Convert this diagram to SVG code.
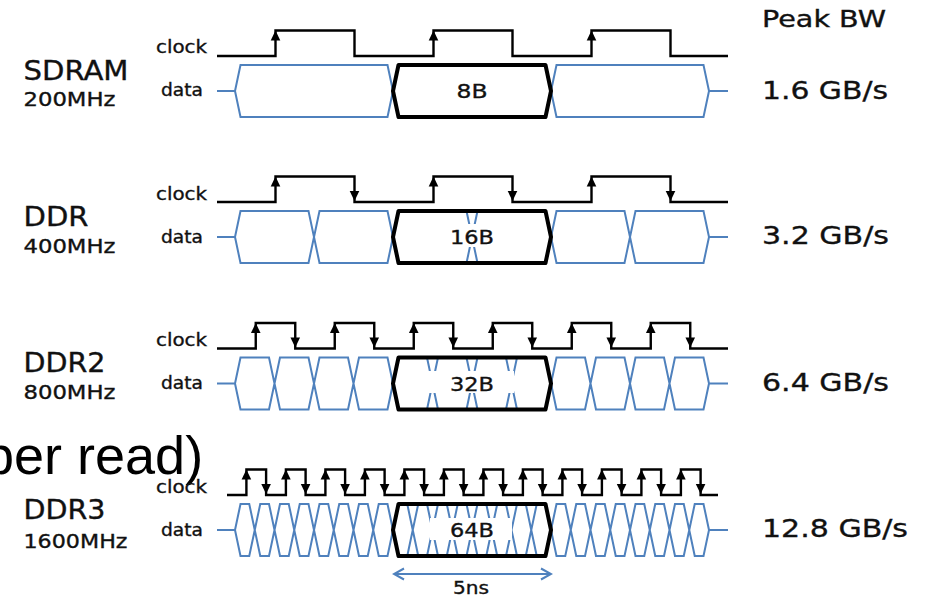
<svg xmlns="http://www.w3.org/2000/svg" xmlns:xlink="http://www.w3.org/1999/xlink" width="936" height="602" viewBox="0 0 936 602">
<style>
.t{font-family:"DejaVu Sans",Verdana,sans-serif;fill:#111;stroke:#111;stroke-width:0.35}
.big{font-size:26px}
.mhz{font-size:19px}
.lab{font-size:18px}
.bw{font-size:25px}
.box{font-size:20px;text-anchor:middle}
.clk{fill:none;stroke:#000;stroke-width:2.4}
.dat{fill:none;stroke:#4f81bd;stroke-width:2;stroke-linejoin:miter}
.bold{fill:none;stroke:#000;stroke-width:4;stroke-linejoin:round}
.bg{fill:#fff}
</style>
<defs>
<path id="au" d="M0,0 L4.8,10 L-4.8,10 Z" fill="#000"/>
<path id="ad" d="M0,0 L4.8,-10 L-4.8,-10 Z" fill="#000"/>
<marker id="oa" viewBox="0 0 14 14" refX="12" refY="7" markerWidth="14" markerHeight="14" markerUnits="userSpaceOnUse" orient="auto-start-reverse">
<path d="M2,1.5 L12,7 L2,12.5" fill="none" stroke="#4f81bd" stroke-width="2"/>
</marker>
</defs>
<rect width="936" height="602" fill="#fff"/>

<text x="-16" y="474" style="font-family:'Liberation Sans',Arial,sans-serif;font-size:54px" fill="#000">per read)</text>

<text class="t" x="762" y="27" style="font-size:23px" textLength="124" lengthAdjust="spacingAndGlyphs">Peak BW</text>

<g id="sdram">
<text class="t big" x="23.5" y="79.5" textLength="105" lengthAdjust="spacingAndGlyphs">SDRAM</text>
<text class="t mhz" x="23.5" y="106" textLength="92" lengthAdjust="spacingAndGlyphs">200MHz</text>
<text class="t lab" x="156" y="53" textLength="51" lengthAdjust="spacingAndGlyphs">clock</text>
<text class="t lab" x="161" y="96" textLength="42" lengthAdjust="spacingAndGlyphs">data</text>
<path class="clk" d="M217,56 H275.5 V30.5 H354.5 V56 H433.5 V30.5 H512.5 V56 H591.5 V30.5 H670.5 V56 H728"/>
<use xlink:href="#au" x="275.5" y="30.5"/><use xlink:href="#au" x="433.5" y="30.5"/><use xlink:href="#au" x="591.5" y="30.5"/>
<path class="dat" d="M217,91 H235 M709,91 H728
M235,91 L240.5,65 H387.5 L393,91 L398.5,65 H545.5 L551,91 L556.5,65 H703.5 L709,91
M235,91 L240.5,117 H387.5 L393,91 L398.5,117 H545.5 L551,91 L556.5,117 H703.5 L709,91"/>
<path class="bold" d="M393,91 L398.5,65 H545.5 L551,91 L545.5,117 H398.5 Z"/>
<text class="t box" x="472" y="98" textLength="31" lengthAdjust="spacingAndGlyphs">8B</text>
<text class="t bw" x="762" y="98.5" textLength="126" lengthAdjust="spacingAndGlyphs">1.6 GB/s</text>
</g>

<g id="ddr">
<text class="t big" x="23.5" y="226" textLength="65" lengthAdjust="spacingAndGlyphs">DDR</text>
<text class="t mhz" x="23.5" y="252.5" textLength="92" lengthAdjust="spacingAndGlyphs">400MHz</text>
<text class="t lab" x="156" y="199.5" textLength="51" lengthAdjust="spacingAndGlyphs">clock</text>
<text class="t lab" x="161" y="242.5" textLength="42" lengthAdjust="spacingAndGlyphs">data</text>
<path class="clk" d="M217,202 H275.5 V176.5 H354.5 V202 H433.5 V176.5 H512.5 V202 H591.5 V176.5 H670.5 V202 H728"/>
<use xlink:href="#au" x="275.5" y="176.5"/><use xlink:href="#au" x="433.5" y="176.5"/><use xlink:href="#au" x="591.5" y="176.5"/>
<use xlink:href="#ad" x="354.5" y="201"/><use xlink:href="#ad" x="512.5" y="201"/><use xlink:href="#ad" x="670.5" y="201"/>
<path class="dat" d="M217,237 H235 M709,237 H728
M235,237 L240.5,211 H308.5 L314,237 L319.5,211 H387.5 L393,237 L398.5,211 H466.5 L472,237 L477.5,211 H545.5 L551,237 L556.5,211 H624.5 L630,237 L635.5,211 H703.5 L709,237
M235,237 L240.5,263 H308.5 L314,237 L319.5,263 H387.5 L393,237 L398.5,263 H466.5 L472,237 L477.5,263 H545.5 L551,237 L556.5,263 H624.5 L630,237 L635.5,263 H703.5 L709,237"/>
<rect class="bg" x="428" y="224" width="86" height="23"/>
<path class="bold" d="M393,237 L398.5,211 H545.5 L551,237 L545.5,263 H398.5 Z"/>
<text class="t box" x="472" y="244" textLength="44" lengthAdjust="spacingAndGlyphs">16B</text>
<text class="t bw" x="762" y="244" textLength="127" lengthAdjust="spacingAndGlyphs">3.2 GB/s</text>
</g>

<g id="ddr2">
<text class="t big" x="23.5" y="372" textLength="82" lengthAdjust="spacingAndGlyphs">DDR2</text>
<text class="t mhz" x="23.5" y="399" textLength="92" lengthAdjust="spacingAndGlyphs">800MHz</text>
<text class="t lab" x="156" y="346" textLength="51" lengthAdjust="spacingAndGlyphs">clock</text>
<text class="t lab" x="161" y="389" textLength="42" lengthAdjust="spacingAndGlyphs">data</text>
<path class="clk" d="M217,348.5 H255.75 V323 H295.25 V348.5 H334.75 V323 H374.25 V348.5 H413.75 V323 H453.25 V348.5 H492.75 V323 H532.25 V348.5 H571.75 V323 H611.25 V348.5 H650.75 V323 H690.25 V348.5 H728"/>
<use xlink:href="#au" x="255.75" y="323"/><use xlink:href="#au" x="334.75" y="323"/><use xlink:href="#au" x="413.75" y="323"/><use xlink:href="#au" x="492.75" y="323"/><use xlink:href="#au" x="571.75" y="323"/><use xlink:href="#au" x="650.75" y="323"/>
<use xlink:href="#ad" x="295.25" y="347.5"/><use xlink:href="#ad" x="374.25" y="347.5"/><use xlink:href="#ad" x="453.25" y="347.5"/><use xlink:href="#ad" x="532.25" y="347.5"/><use xlink:href="#ad" x="611.25" y="347.5"/><use xlink:href="#ad" x="690.25" y="347.5"/>
<path class="dat" d="M217,383.5 H235 M709,383.5 H728
M235,383.5 L240.5,357.5 H269 L274.5,383.5 L280,357.5 H308.5 L314,383.5 L319.5,357.5 H348 L353.5,383.5 L359,357.5 H387.5 L393,383.5 L398.5,357.5 H427 L432.5,383.5 L438,357.5 H466.5 L472,383.5 L477.5,357.5 H506 L511.5,383.5 L517,357.5 H545.5 L551,383.5 L556.5,357.5 H585 L590.5,383.5 L596,357.5 H624.5 L630,383.5 L635.5,357.5 H664 L669.5,383.5 L675,357.5 H703.5 L709,383.5
M235,383.5 L240.5,409.5 H269 L274.5,383.5 L280,409.5 H308.5 L314,383.5 L319.5,409.5 H348 L353.5,383.5 L359,409.5 H387.5 L393,383.5 L398.5,409.5 H427 L432.5,383.5 L438,409.5 H466.5 L472,383.5 L477.5,409.5 H506 L511.5,383.5 L517,409.5 H545.5 L551,383.5 L556.5,409.5 H585 L590.5,383.5 L596,409.5 H624.5 L630,383.5 L635.5,409.5 H664 L669.5,383.5 L675,409.5 H703.5 L709,383.5"/>
<rect class="bg" x="428" y="371" width="86" height="22"/>
<path class="bold" d="M393,383.5 L398.5,357.5 H545.5 L551,383.5 L545.5,409.5 H398.5 Z"/>
<text class="t box" x="472" y="390.5" textLength="44" lengthAdjust="spacingAndGlyphs">32B</text>
<text class="t bw" x="762" y="390.5" textLength="127" lengthAdjust="spacingAndGlyphs">6.4 GB/s</text>
</g>

<g id="ddr3">
<text class="t big" x="23.5" y="518.5" textLength="82" lengthAdjust="spacingAndGlyphs">DDR3</text>
<text class="t mhz" x="23.5" y="548" textLength="104" lengthAdjust="spacingAndGlyphs">1600MHz</text>
<text class="t lab" x="156" y="492.5" textLength="51" lengthAdjust="spacingAndGlyphs">clock</text>
<text class="t lab" x="161" y="535.5" textLength="42" lengthAdjust="spacingAndGlyphs">data</text>
<path class="clk" d="M227,495 H246.4 V469.5 H266.1 V495 H285.9 V469.5 H305.6 V495 H325.4 V469.5 H345.1 V495 H364.9 V469.5 H384.6 V495 H404.4 V469.5 H424.1 V495 H443.9 V469.5 H463.6 V495 H483.4 V469.5 H503.1 V495 H522.9 V469.5 H542.6 V495 H562.4 V469.5 H582.1 V495 H601.9 V469.5 H621.6 V495 H641.4 V469.5 H661.1 V495 H680.9 V469.5 H700.6 V495 H718"/>
<use xlink:href="#au" x="246.4" y="469.5"/><use xlink:href="#au" x="285.9" y="469.5"/><use xlink:href="#au" x="325.4" y="469.5"/><use xlink:href="#au" x="364.9" y="469.5"/><use xlink:href="#au" x="404.4" y="469.5"/><use xlink:href="#au" x="443.9" y="469.5"/><use xlink:href="#au" x="483.4" y="469.5"/><use xlink:href="#au" x="522.9" y="469.5"/><use xlink:href="#au" x="562.4" y="469.5"/><use xlink:href="#au" x="601.9" y="469.5"/><use xlink:href="#au" x="641.4" y="469.5"/><use xlink:href="#au" x="680.9" y="469.5"/>
<use xlink:href="#ad" x="266.1" y="494"/><use xlink:href="#ad" x="305.6" y="494"/><use xlink:href="#ad" x="345.1" y="494"/><use xlink:href="#ad" x="384.6" y="494"/><use xlink:href="#ad" x="424.1" y="494"/><use xlink:href="#ad" x="463.6" y="494"/><use xlink:href="#ad" x="503.1" y="494"/><use xlink:href="#ad" x="542.6" y="494"/><use xlink:href="#ad" x="582.1" y="494"/><use xlink:href="#ad" x="621.6" y="494"/><use xlink:href="#ad" x="661.1" y="494"/><use xlink:href="#ad" x="700.6" y="494"/>
<path class="dat" d="M217,530 H235 M709,530 H728
M235,530 L240.5,504 H249.25 L254.75,530 L260.25,504 H269 L274.5,530 L280,504 H288.75 L294.25,530 L299.75,504 H308.5 L314,530 L319.5,504 H328.25 L333.75,530 L339.25,504 H348 L353.5,530 L359,504 H367.75 L373.25,530 L378.75,504 H387.5 L393,530 L398.5,504 H407.25 L412.75,530 L418.25,504 H427 L432.5,530 L438,504 H446.75 L452.25,530 L457.75,504 H466.5 L472,530 L477.5,504 H486.25 L491.75,530 L497.25,504 H506 L511.5,530 L517,504 H525.75 L531.25,530 L536.75,504 H545.5 L551,530 L556.5,504 H565.25 L570.75,530 L576.25,504 H585 L590.5,530 L596,504 H604.75 L610.25,530 L615.75,504 H624.5 L630,530 L635.5,504 H644.25 L649.75,530 L655.25,504 H664 L669.5,530 L675,504 H683.75 L689.25,530 L694.75,504 H703.5 L709,530
M235,530 L240.5,556 H249.25 L254.75,530 L260.25,556 H269 L274.5,530 L280,556 H288.75 L294.25,530 L299.75,556 H308.5 L314,530 L319.5,556 H328.25 L333.75,530 L339.25,556 H348 L353.5,530 L359,556 H367.75 L373.25,530 L378.75,556 H387.5 L393,530 L398.5,556 H407.25 L412.75,530 L418.25,556 H427 L432.5,530 L438,556 H446.75 L452.25,530 L457.75,556 H466.5 L472,530 L477.5,556 H486.25 L491.75,530 L497.25,556 H506 L511.5,530 L517,556 H525.75 L531.25,530 L536.75,556 H545.5 L551,530 L556.5,556 H565.25 L570.75,530 L576.25,556 H585 L590.5,530 L596,556 H604.75 L610.25,530 L615.75,556 H624.5 L630,530 L635.5,556 H644.25 L649.75,530 L655.25,556 H664 L669.5,530 L675,556 H683.75 L689.25,530 L694.75,556 H703.5 L709,530"/>
<rect class="bg" x="430" y="518" width="82" height="22"/>
<path class="bold" d="M393,530 L398.5,504 H545.5 L551,530 L545.5,556 H398.5 Z"/>
<text class="t box" x="472" y="537" textLength="44" lengthAdjust="spacingAndGlyphs">64B</text>
<text class="t bw" x="762" y="537" textLength="146" lengthAdjust="spacingAndGlyphs">12.8 GB/s</text>
</g>

<g id="connectors">
<line x1="394" y1="574" x2="551" y2="574" stroke="#4f81bd" stroke-width="2" marker-start="url(#oa)" marker-end="url(#oa)"/>
<text class="t" x="471" y="594" style="font-size:17px;text-anchor:middle" textLength="36" lengthAdjust="spacingAndGlyphs">5ns</text>
</g>
</svg>
